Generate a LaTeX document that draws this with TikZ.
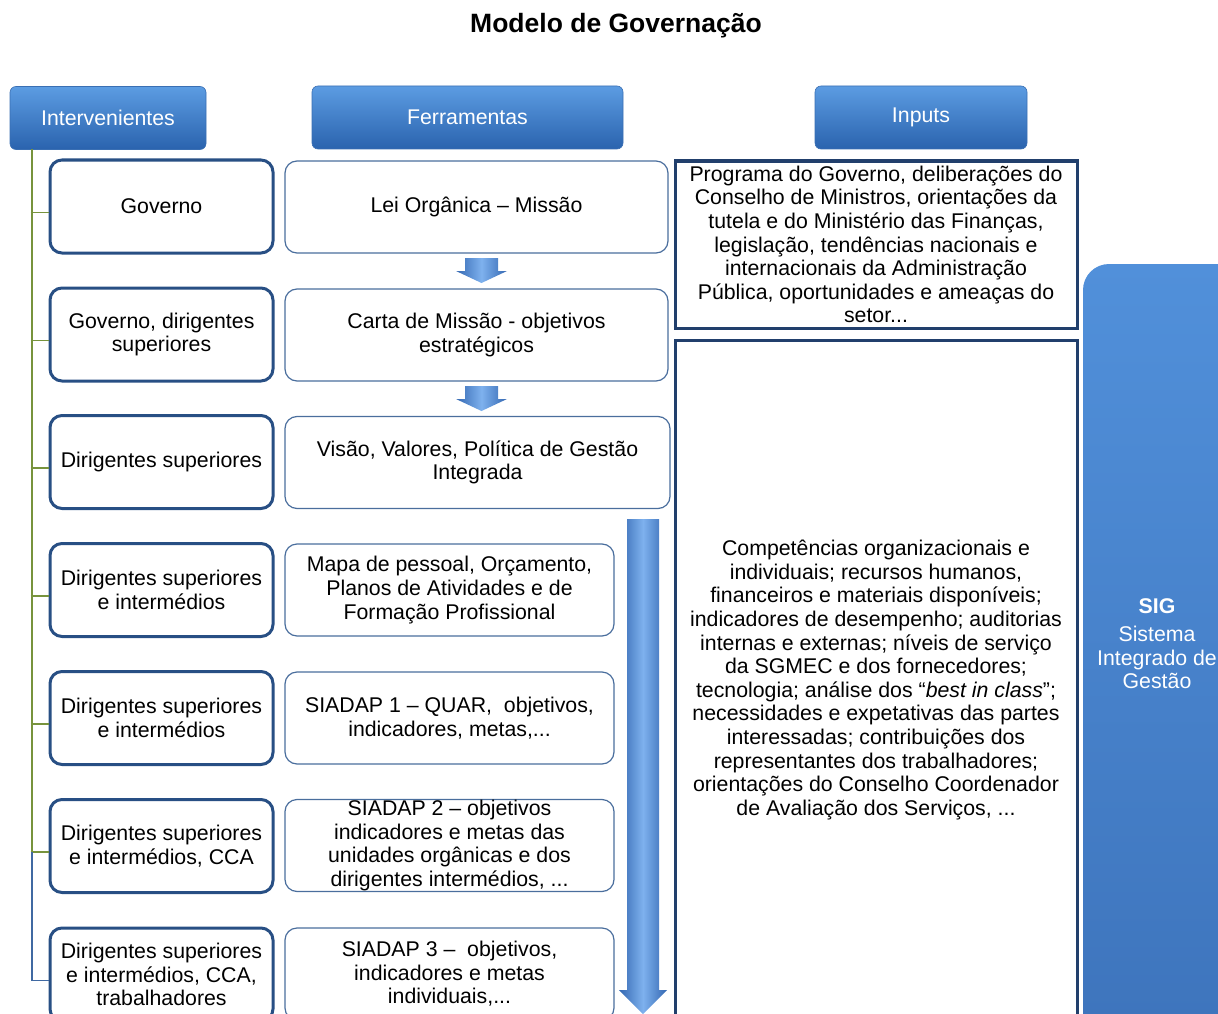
\documentclass[tikz,border=0pt]{standalone}
\usepackage{fontspec}
\setmainfont{Liberation Sans}
\usetikzlibrary{calc}
\definecolor{hdrTop}{HTML}{5C9CE2}
\definecolor{hdrBot}{HTML}{2A63AE}
\definecolor{hdrEdge}{HTML}{3A6FB3}
\definecolor{actEdge}{HTML}{284F84}
\definecolor{toolEdge}{HTML}{4A6E9D}
\definecolor{inpEdge}{HTML}{213F6C}
\definecolor{treeGreen}{HTML}{77933C}
\definecolor{treeBlue}{HTML}{4069A2}
\definecolor{arrDark}{HTML}{3468B2}
\definecolor{arrLight}{HTML}{7EB1EE}
\definecolor{sigTop}{HTML}{5190DA}
\definecolor{sigBot}{HTML}{3C72BA}
\tikzset{
  txt/.style={font=\fontsize{21.3}{23.6}\selectfont},
  hdr/.style={txt, rounded corners=6, top color=hdrTop, bottom color=hdrBot, draw=hdrEdge, line width=0.6, text=white, minimum height=63, inner sep=0},
  actbox/.style={txt, draw=actEdge, line width=3, rounded corners=12, fill=white, minimum width=223, minimum height=93, align=center, inner sep=0},
  toolbox/.style={txt, draw=toolEdge, line width=1.2, rounded corners=12, fill=white, minimum height=92, align=center, inner sep=0},
  inpbox/.style={txt, draw=inpEdge, line width=3, fill=white, minimum width=402, align=center, inner sep=0},
  blockarrow/.style={left color=arrDark, right color=arrDark, middle color=arrLight}
}
\begin{document}
\begin{tikzpicture}[x=1pt,y=-1pt]
\useasboundingbox (0,0) rectangle (1218,1014);
\clip (0,0) rectangle (1218,1014);

\node[font=\fontsize{26.5}{30}\selectfont\bfseries] (title) at (616,26) {Modelo de Governação};

\node[hdr, minimum width=196] (hdrInt) at (108,118) {Intervenientes};
\node[hdr, minimum width=311] (hdrFer) at (467.5,117.5) {Ferramentas};
\node[hdr, minimum width=212] (hdrInp) at (921,117.5) {Inputs};

\foreach \i/\y/\name in {1/206.5/Governo,
    2/334.5/{Governo, dirigentes\\superiores},
    3/462/Dirigentes superiores,
    4/590/{Dirigentes superiores\\e intermédios},
    5/718/{Dirigentes superiores\\e intermédios},
    6/846/{Dirigentes superiores\\e intermédios, CCA},
    7/974.5/{Dirigentes superiores\\e intermédios, CCA,\\trabalhadores}}
    \node[actbox] (act\i) at (161.5,\y) {\name};

\foreach \i/\x/\w/\y/\name in {1/476.5/383/207/{Lei Orgânica – Missão},
    2/476.5/383/335/{Carta de Missão - objetivos\\estratégicos},
    3/477.5/385/462.5/{Visão, Valores, Política de Gestão\\Integrada},
    4/449.5/329/590/{Mapa de pessoal, Orçamento,\\Planos de Atividades e de\\Formação Profissional},
    5/449.5/329/718/{SIADAP 1 – QUAR,\ \ objetivos,\\indicadores, metas,...},
    6/449.5/329/845.5/{SIADAP 2 – objetivos\\indicadores e metas das\\unidades orgânicas e dos\\dirigentes intermédios, ...},
    7/449.5/329/974/{SIADAP 3 –\ \ objetivos,\\indicadores e metas\\individuais,...}}
    \node[toolbox, minimum width=\w] (tool\i) at (\x,\y) {\name};

\coordinate (treeTop) at (32,149);
\coordinate (treeMid) at (32,852);
\draw[treeGreen, line width=1.5] (treeTop) -- (treeMid);
\foreach \i in {1,...,6}
    \draw[treeGreen, line width=1.5] ($(act\i.west)+(-18,6)$) -- ($(act\i.west)+(0,6)$);
\draw[treeBlue, line width=1.5] (treeMid) |- ($(act7.west)+(0,6)$);

\foreach \top in {258,386} {
    \pgfmathsetmacro{\mid}{\top+13}
    \pgfmathsetmacro{\tip}{\top+25}
    \shade[blockarrow] (465,\top) -- (498,\top) -- (498,\mid) -- (507,\mid)
        -- (481.5,\tip) -- (456,\mid) -- (465,\mid) -- cycle;
}
\shade[blockarrow] (627,519) -- (659,519) -- (659,990) -- (667,990)
    -- (643,1014) -- (619,990) -- (627,990) -- cycle;

\node[inpbox, minimum height=167] (inp1) at (876,244.5) {Programa do Governo, deliberações do\\Conselho de Ministros, orientações da\\tutela e do Ministério das Finanças,\\legislação, tendências nacionais e\\internacionais da Administração\\Pública, oportunidades e ameaças do\\setor...};
\node[inpbox, minimum height=680] (inp2) at (876,680) {Competências organizacionais e\\individuais; recursos humanos,\\financeiros e materiais disponíveis;\\indicadores de desempenho; auditorias\\internas e externas; níveis de serviço\\da SGMEC e dos fornecedores;\\tecnologia; análise dos “\textit{best in class}”;\\necessidades e expetativas das partes\\interessadas; contribuições dos\\representantes dos trabalhadores;\\orientações do Conselho Coordenador\\de Avaliação dos Serviços, ...};

\shade[top color=sigTop, bottom color=sigBot, rounded corners=26] (1083,264) rectangle (1260,1100);
\node[txt, text=white, align=center] (sig) at (1157,644) {\textbf{SIG}\\[4pt]Sistema\\Integrado de\\Gestão};
\end{tikzpicture}
\end{document}
